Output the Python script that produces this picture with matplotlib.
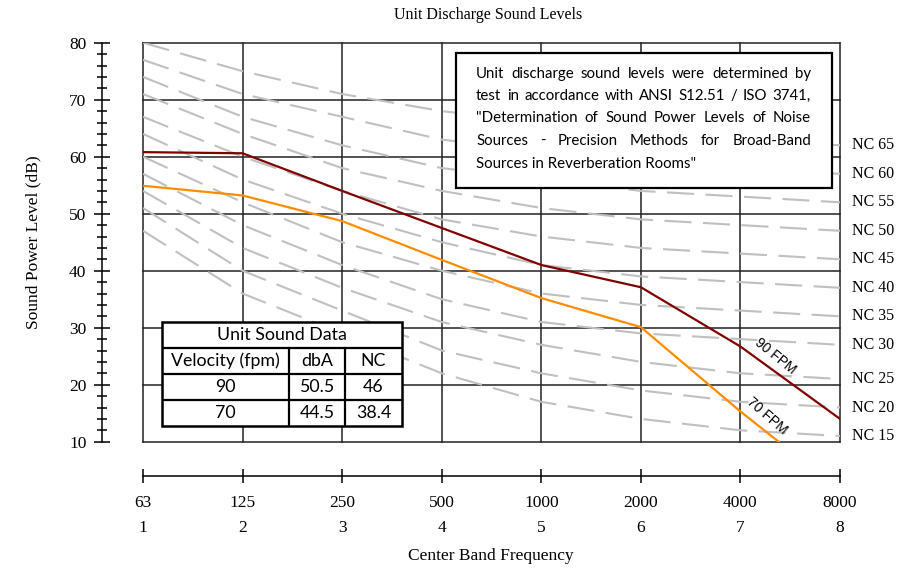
import matplotlib

matplotlib.use("Agg")

import matplotlib.pyplot as plt
import numpy as np
from matplotlib.patches import Rectangle
from matplotlib.ticker import MultipleLocator

# ---- data -------------------------------------------------------------
bands = np.arange(1, 9)
freq_labels = ["63", "125", "250", "500", "1000", "2000", "4000", "8000"]

# standard NC curves (63 Hz ... 8000 Hz)
nc_ratings = [15, 20, 25, 30, 35, 40, 45, 50, 55, 60, 65]
nc_curves = [
    [47, 36, 29, 22, 17, 14, 12, 11],
    [51, 40, 33, 26, 22, 19, 17, 16],
    [54, 44, 37, 31, 27, 24, 22, 21],
    [57, 48, 41, 35, 31, 29, 28, 27],
    [60, 52, 45, 40, 36, 34, 33, 32],
    [64, 56, 50, 45, 41, 39, 38, 37],
    [67, 60, 54, 49, 46, 44, 43, 42],
    [71, 64, 58, 54, 51, 49, 48, 47],
    [74, 67, 62, 58, 56, 54, 53, 52],
    [77, 71, 67, 63, 61, 59, 58, 57],
    [80, 75, 71, 68, 66, 64, 63, 62],
]

fpm90 = [60.8, 60.6, 54.0, 47.5, 41.0, 37.1, 26.7, 14.0]
fpm70 = [54.9, 53.2, 48.7, 41.9, 35.2, 30.1, 15.3, 1.5]

table_title = "Unit Sound Data"
table_header = ["Velocity (fpm)", "dbA", "NC"]
table_rows = [["90", "50.5", "46"], ["70", "44.5", "38.4"]]

note_lines = [
    "Unit discharge sound levels were determined by",
    "test in accordance with ANSI S12.51 / ISO 3741,",
    "\"Determination of Sound Power Levels of Noise",
    "Sources - Precision Methods for Broad-Band",
    "Sources in Reverberation Rooms\"",
]

SERIF = "Liberation Serif"
SANS_BOX = "Lato"

RED = "#800000"
ORANGE = "#ff8c00"
GRAY = "#c0c0c0"


def justified_text(fig, ax, lines, x0, x1, y_top, line_h, **kw):
    """Writes lines as a justified paragraph (axes fraction coords)."""
    renderer = fig.canvas.get_renderer()
    ax_w = ax.get_window_extent(renderer).width
    for i, line in enumerate(lines):
        y = y_top - i * line_h
        words = line.split(" ")
        last = i == len(lines) - 1
        if last or len(words) == 1:
            ax.text(x0, y, line, transform=ax.transAxes, ha="left", va="center", **kw)
            continue
        arts = [ax.text(0, y, w, transform=ax.transAxes, ha="left", va="center", **kw) for w in words]
        widths = [a.get_window_extent(renderer).width / ax_w for a in arts]
        gap = (x1 - x0 - sum(widths)) / (len(words) - 1)
        x = x0
        for a, w in zip(arts, widths):
            a.set_x(x)
            x += w + gap


fig = plt.figure(figsize=(9.15, 5.68), dpi=100)
ax = fig.add_axes([143 / 915, 1 - 441.7 / 568, 697 / 915, 399 / 568])
ax.set_xlim(1, 8)
ax.set_ylim(10, 80)

# grid / frame
for yv in range(10, 81, 10):
    ax.axhline(yv, color="#222222", lw=1.1, zorder=1, clip_on=False)
for xv in bands:
    ax.axvline(xv, color="#222222", lw=1.1, zorder=1, clip_on=False)

# NC curves
for rating, curve in zip(nc_ratings, nc_curves):
    ax.plot(bands, curve, color=GRAY, lw=1.5, linestyle=(0, (13, 5.5)), zorder=2)
    ax.annotate(f"NC {rating}", xy=(8, curve[-1]), xytext=(9, 0), textcoords="offset points",
                ha="left", va="center", fontsize=11.5, family=SERIF, annotation_clip=False)

# unit curves
ax.plot(bands, fpm90, color=RED, lw=1.6, zorder=3)
ax.plot(bands, fpm70, color=ORANGE, lw=1.6, zorder=3)

for series, xl, label, rot in [(fpm90, 7.31, "90 FPM", -39), (fpm70, 7.22, "70 FPM", -41)]:
    yl = np.interp(xl, bands, series)
    ax.annotate(label, xy=(xl, yl), xytext=(3, 9), textcoords="offset points",
                ha="center", va="center", rotation=rot, fontsize=10,
                family="Liberation Sans", zorder=4)

# axes styling
for side in ["top", "right"]:
    ax.spines[side].set_visible(False)
ax.spines["left"].set_position(("outward", 29.7))
ax.spines["bottom"].set_position(("outward", 25))
ax.spines["left"].set_linewidth(1.1)
ax.spines["bottom"].set_linewidth(1.1)

ax.yaxis.set_major_locator(MultipleLocator(10))
ax.yaxis.set_minor_locator(MultipleLocator(2))
ax.tick_params(axis="y", which="major", direction="inout", length=12.2, width=1.1,
               pad=5, labelsize=12.5)
ax.tick_params(axis="y", which="minor", direction="inout", length=6.5, width=1.1)
ax.set_xticks(bands)
ax.set_xticklabels([f"{f}\n{b}" for f, b in zip(freq_labels, bands)], linespacing=1.8)
ax.tick_params(axis="x", direction="inout", length=10.5, width=1.1, pad=8, labelsize=12.5)
for lab in ax.get_xticklabels() + ax.get_yticklabels():
    lab.set_family(SERIF)

fig.text(488.5 / 915, 1 - 15 / 568, "Unit Discharge Sound Levels", ha="center", va="center",
         fontsize=11.5, family=SERIF)
fig.text(491 / 915, 1 - 556 / 568, "Center Band Frequency", ha="center", va="center",
         fontsize=12.5, family=SERIF)
fig.text(33 / 915, 1 - 242 / 568, "Sound Power Level (dB)", ha="center", va="center",
         rotation=90, fontsize=12.5, family=SERIF)

# note box
bx0, bx1 = (456 - 143) / 697, (832 - 143) / 697
by0, by1 = (441.7 - 187.5) / 399, (441.7 - 52.5) / 399
ax.add_patch(Rectangle((bx0, by0), bx1 - bx0, by1 - by0, transform=ax.transAxes,
                       facecolor="white", edgecolor="black", lw=1.6, zorder=5))
justified_text(fig, ax, note_lines, (476 - 143) / 697, (811 - 143) / 697,
               (441.7 - 73.5) / 399, 22.5 / 399, fontsize=10.8, family=SANS_BOX, zorder=6)

# data table
tax = fig.add_axes([161.7 / 915, 1 - 426 / 568, 240 / 915, 104.3 / 568])
tax.set_xlim(0, 240)
tax.set_ylim(104.3, 0)
tax.axis("off")
col_edges = [0, 127.3, 183.3, 240]
row_h = 104.3 / 4
tax.add_patch(Rectangle((0, 0), 240, 104.3, facecolor="white", edgecolor="black", lw=1.8,
                        clip_on=False))
for r in range(1, 4):
    tax.plot([0, 240], [r * row_h, r * row_h], color="black", lw=1.6)
for c in col_edges[1:-1]:
    tax.plot([c, c], [row_h, 104.3], color="black", lw=1.6)
tax.text(120, row_h / 2, table_title, ha="center", va="center", fontsize=12.8, family=SANS_BOX)
for r, row in enumerate([table_header] + table_rows, start=1):
    for c, val in enumerate(row):
        xc = (col_edges[c] + col_edges[c + 1]) / 2
        tax.text(xc, (r + 0.5) * row_h, val, ha="center", va="center", fontsize=12.8,
                 family=SANS_BOX)

fig.savefig("out.png", dpi=100)
plt.close(fig)
